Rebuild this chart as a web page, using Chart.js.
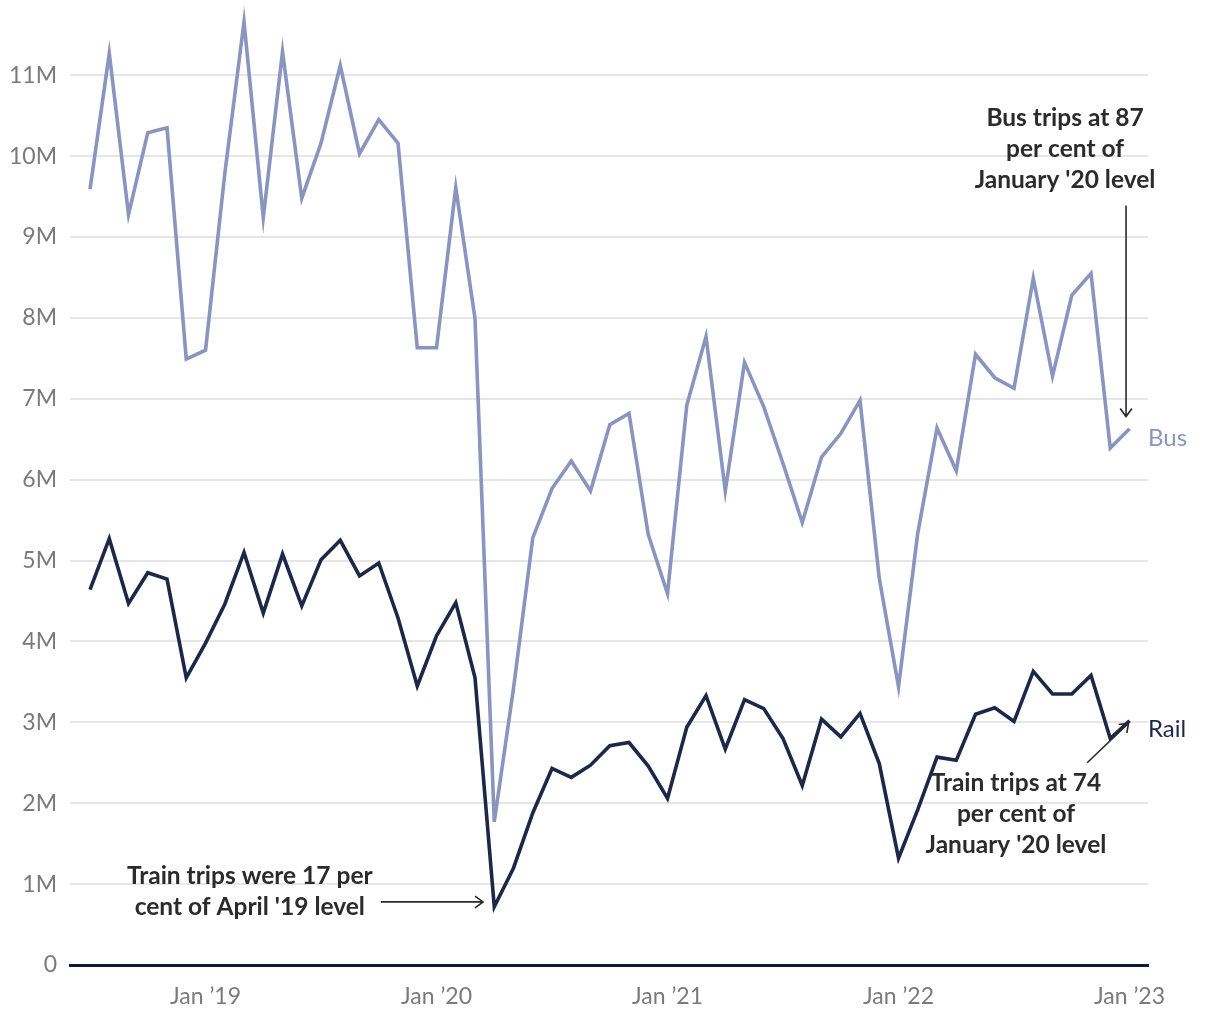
<!DOCTYPE html>
<html>
<head>
<meta charset="utf-8">
<title>Bus and rail trips</title>
<script src="https://cdn.jsdelivr.net/npm/chart.js@4.4.1/dist/chart.umd.min.js"></script>
<style>
  html, body { margin: 0; padding: 0; background: #fff; }
  #wrap { width: 1220px; height: 1020px; }
</style>
</head>
<body>
<div id="wrap"><canvas id="chart" width="1220" height="1020"></canvas></div>
<script>
// Monthly trips, Jul 2018 - Jan 2023 (millions)
const months = [
  "Jul 2018", "Aug 2018", "Sep 2018", "Oct 2018", "Nov 2018", "Dec 2018",
  "Jan 2019", "Feb 2019", "Mar 2019", "Apr 2019", "May 2019", "Jun 2019",
  "Jul 2019", "Aug 2019", "Sep 2019", "Oct 2019", "Nov 2019", "Dec 2019",
  "Jan 2020", "Feb 2020", "Mar 2020", "Apr 2020", "May 2020", "Jun 2020",
  "Jul 2020", "Aug 2020", "Sep 2020", "Oct 2020", "Nov 2020", "Dec 2020",
  "Jan 2021", "Feb 2021", "Mar 2021", "Apr 2021", "May 2021", "Jun 2021",
  "Jul 2021", "Aug 2021", "Sep 2021", "Oct 2021", "Nov 2021", "Dec 2021",
  "Jan 2022", "Feb 2022", "Mar 2022", "Apr 2022", "May 2022", "Jun 2022",
  "Jul 2022", "Aug 2022", "Sep 2022", "Oct 2022", "Nov 2022", "Dec 2022",
  "Jan 2023",
];

const busTrips = [
  9.59, 11.27, 9.28, 10.29, 10.35, 7.49,
  7.60, 9.78, 11.66, 9.24, 11.29, 9.48,
  10.16, 11.12, 10.03, 10.45, 10.16, 7.63,
  7.63, 9.61, 7.99, 1.77, 3.42, 5.28,
  5.89, 6.23, 5.86, 6.68, 6.82, 5.32,
  4.59, 6.92, 7.77, 5.86, 7.45, 6.90,
  6.20, 5.47, 6.28, 6.57, 6.98, 4.78,
  3.44, 5.34, 6.64, 6.11, 7.55, 7.26,
  7.13, 8.49, 7.28, 8.28, 8.55, 6.39,
  6.63,
];

const railTrips = [
  4.64, 5.27, 4.47, 4.85, 4.77, 3.55,
  3.98, 4.46, 5.10, 4.35, 5.08, 4.44,
  5.01, 5.25, 4.81, 4.97, 4.29, 3.45,
  4.07, 4.48, 3.55, 0.72, 1.20, 1.88,
  2.43, 2.32, 2.47, 2.71, 2.75, 2.46,
  2.06, 2.94, 3.33, 2.67, 3.28, 3.17,
  2.80, 2.22, 3.04, 2.82, 3.11, 2.49,
  1.32, 1.92, 2.57, 2.53, 3.10, 3.18,
  3.01, 3.63, 3.35, 3.35, 3.58, 2.80,
  3.02,
];

const xTickMonths = ["Jan 2019", "Jan 2020", "Jan 2021", "Jan 2022", "Jan 2023"];
const xTickLabels = ["Jan \u201919", "Jan \u201920", "Jan \u201921", "Jan \u201922", "Jan \u201923"];
const yTicks = [0, 1, 2, 3, 4, 5, 6, 7, 8, 9, 10, 11];

// Colours
const BUS_COLOR = "#8a95bf";
const RAIL_COLOR = "#1b2848";
const AXIS_COLOR = "#0d1a3b";
const TICK_COLOR = "#7a7a7a";
const NOTE_COLOR = "#2b2b2b";

// Annotations in data coordinates (x = month index, y = millions)
const notes = [
  { lines: ["Bus trips at 87", "per cent of", "January '20 level"], x: 50.65, y: 10.47,
    arrow: { from: [53.82, 9.39], to: [53.82, 6.78] } },
  { lines: ["Train trips were 17 per", "cent of April '19 level"], x: 8.3, y: 1.1,
    arrow: { from: [15.1, 0.78], to: [20.42, 0.78] } },
  { lines: ["Train trips at 74", "per cent of", "January '20 level"], x: 48.1, y: 2.25,
    arrow: { from: [51.8, 2.5], to: [53.95, 2.99] } },
];

function drawArrow(ctx, x1, y1, x2, y2) {
  const ang = Math.atan2(y2 - y1, x2 - x1);
  const head = 10, spread = Math.PI / 5;
  ctx.beginPath();
  ctx.moveTo(x1, y1);
  ctx.lineTo(x2, y2);
  ctx.moveTo(x2 - head * Math.cos(ang - spread), y2 - head * Math.sin(ang - spread));
  ctx.lineTo(x2, y2);
  ctx.lineTo(x2 - head * Math.cos(ang + spread), y2 - head * Math.sin(ang + spread));
  ctx.stroke();
}

const labelsPlugin = {
  id: "labels",
  afterDatasetsDraw(chart) {
    const { ctx, scales: { x, y } } = chart;
    const last = months.length - 1;
    ctx.save();

    // Series end labels
    ctx.font = "24px Lato";
    ctx.textAlign = "left";
    ctx.textBaseline = "middle";
    ctx.fillStyle = BUS_COLOR;
    ctx.fillText("Bus", chart.chartArea.right, y.getPixelForValue(busTrips[last]) + 10);
    ctx.fillStyle = RAIL_COLOR;
    ctx.fillText("Rail", chart.chartArea.right, y.getPixelForValue(railTrips[last]) + 9);

    // Notes
    ctx.font = "bold 24.5px Lato";
    ctx.textAlign = "center";
    ctx.fillStyle = NOTE_COLOR;
    ctx.strokeStyle = NOTE_COLOR;
    ctx.lineWidth = 1.6;
    notes.forEach((n) => {
      const cx = x.getPixelForValue(n.x);
      const cy = y.getPixelForValue(n.y);
      n.lines.forEach((line, i) => ctx.fillText(line, cx, cy + i * 31));
      const a = n.arrow;
      drawArrow(ctx,
        x.getPixelForValue(a.from[0]), y.getPixelForValue(a.from[1]),
        x.getPixelForValue(a.to[0]), y.getPixelForValue(a.to[1]));
    });
    ctx.restore();
  },
};

function makeChart() {
  new Chart(document.getElementById("chart"), {
    type: "line",
    data: {
      datasets: [
        {
          label: "Bus",
          data: busTrips.map((v, i) => ({ x: i, y: v })),
          borderColor: BUS_COLOR,
          borderWidth: 3.6,
          pointRadius: 0,
          borderJoinStyle: "miter",
          clip: false,
          order: 1,
        },
        {
          label: "Rail",
          data: railTrips.map((v, i) => ({ x: i, y: v })),
          borderColor: RAIL_COLOR,
          borderWidth: 3.6,
          pointRadius: 0,
          borderJoinStyle: "miter",
          clip: false,
          order: 0,
        },
      ],
    },
    options: {
      responsive: false,
      animation: false,
      layout: { padding: { left: 0, right: 72, top: 0, bottom: 0 } },
      plugins: { legend: { display: false }, tooltip: { enabled: false } },
      scales: {
        x: {
          type: "linear",
          min: -1.04,
          max: 54.96,
          grid: { display: false },
          border: { display: true, color: AXIS_COLOR, width: 3 },
          afterBuildTicks: (s) => {
            s.ticks = xTickMonths.map((m) => ({ value: months.indexOf(m) }));
          },
          afterFit: (s) => { s.height = 55; },
          ticks: {
            autoSkip: false,
            maxRotation: 0,
            padding: 10,
            color: TICK_COLOR,
            font: { family: "Lato", size: 23 },
            callback: (v) => xTickLabels[xTickMonths.indexOf(months[v])],
          },
        },
        y: {
          min: 0,
          max: 11.93,
          border: { display: false },
          grid: { color: "#e6e6e6", lineWidth: 2, drawTicks: false },
          afterBuildTicks: (s) => { s.ticks = yTicks.map((v) => ({ value: v })); },
          afterFit: (s) => {
            s.width = 70;
            // let the plot area reach the top of the canvas
            s.paddingTop = 0;
            s.paddingBottom = 0;
          },
          ticks: {
            padding: 13,
            color: TICK_COLOR,
            font: { family: "Lato", size: 23 },
            callback: (v) => (v === 0 ? "0" : v + "M"),
          },
        },
      },
    },
    plugins: [labelsPlugin],
  });
}

Promise.all([
  document.fonts.load("23px Lato"),
  document.fonts.load("bold 24px Lato"),
]).then(makeChart, makeChart);
</script>
</body>
</html>
